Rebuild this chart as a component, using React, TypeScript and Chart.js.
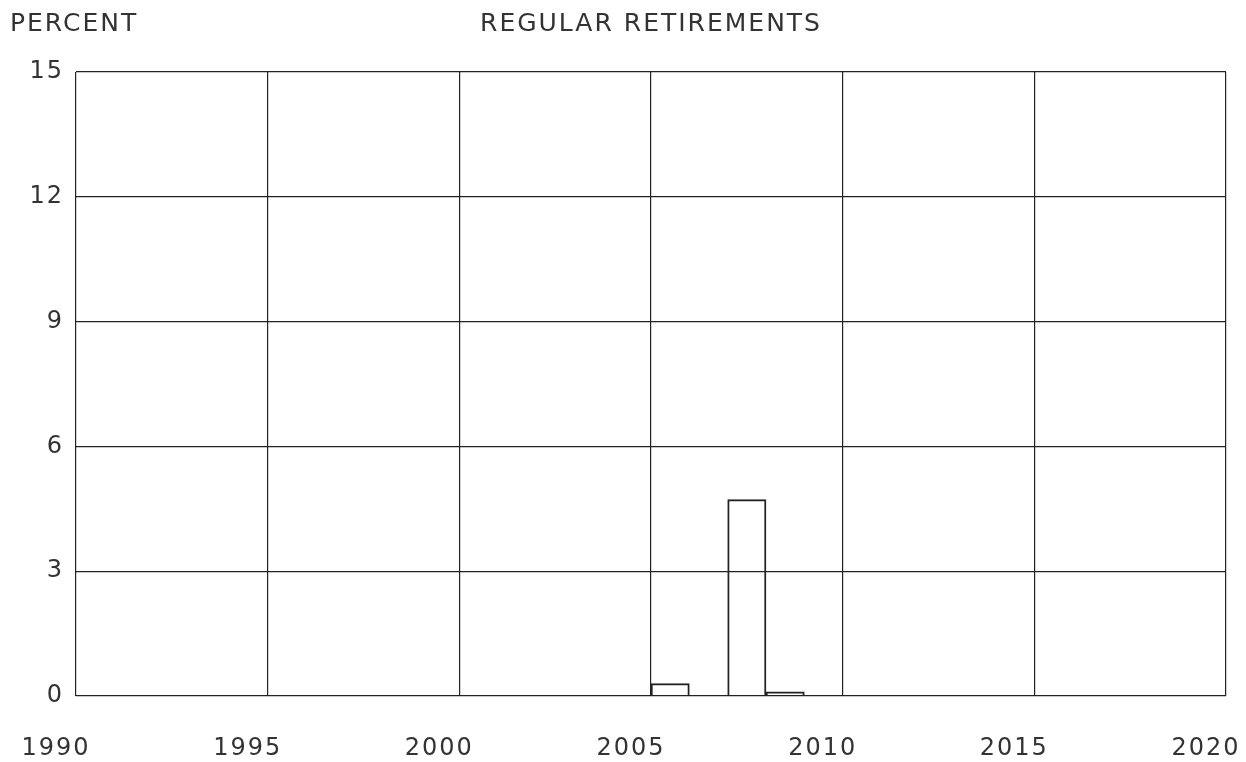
import React, { useEffect, useRef } from "react";
import { Chart, registerables } from "chart.js";

Chart.register(...registerables);

const TITLE = "REGULAR RETIREMENTS";
const Y_TITLE = "PERCENT";
const years = [
  1990, 1991, 1992, 1993, 1994, 1995, 1996, 1997, 1998, 1999,
  2000, 2001, 2002, 2003, 2004, 2005, 2006, 2007, 2008, 2009,
  2010, 2011, 2012, 2013, 2014, 2015, 2016, 2017, 2018, 2019,
];
const percent = [
  0, 0, 0, 0, 0, 0, 0, 0, 0, 0,
  0, 0, 0, 0, 0, 0.3, 0, 4.72, 0.1, 0,
  0, 0, 0, 0, 0, 0, 0, 0, 0, 0,
];
const xMin = 1990;
const xMax = 2020;
const xStep = 5;
const yMin = 0;
const yMax = 15;
const yStep = 3;

const FONT = "'DejaVu Sans', sans-serif";
const INK = "#222";
const TEXT = "#333";

export default function App() {
  const ref = useRef<HTMLCanvasElement | null>(null);

  useEffect(() => {
    document.body.style.margin = "0";
    const canvas = ref.current;
    if (!canvas) return;

    const spacing = {
      id: "spacing",
      beforeUpdate(chart: any) {
        (chart.ctx as any).letterSpacing = "2px";
      },
      beforeDraw(chart: any) {
        (chart.ctx as any).letterSpacing = "2px";
      },
    };

    const titles = {
      id: "titles",
      afterDraw(chart: any) {
        const ctx = chart.ctx;
        ctx.save();
        (ctx as any).letterSpacing = "2px";
        ctx.fillStyle = TEXT;
        ctx.font = `25px ${FONT}`;
        ctx.textBaseline = "middle";
        ctx.textAlign = "left";
        ctx.fillText(Y_TITLE, 10, 24);
        ctx.textAlign = "center";
        ctx.fillText(TITLE, 651, 24);
        ctx.restore();
      },
    };

    const chart = new Chart(canvas, {
      type: "bar",
      data: {
        datasets: [
          {
            data: years.map((y, i) => ({ x: y + 0.5, y: percent[i] })),
            backgroundColor: "rgba(255,255,255,0)",
            borderColor: INK,
            borderWidth: 1.3,
            barPercentage: 1,
            categoryPercentage: 1,
          },
        ],
      },
      options: {
        responsive: false,
        animation: false,
        layout: { padding: { top: 72, right: 20, left: 0, bottom: 0 } },
        plugins: {
          legend: { display: false },
          tooltip: { enabled: false },
          title: { display: false },
        },
        scales: {
          x: {
            type: "linear",
            min: xMin,
            max: xMax,
            offset: false,
            grid: { color: INK, lineWidth: 1.2, drawTicks: false, offset: false },
            border: { display: false },
            afterFit(scale: any) {
              scale.height = 66;
              scale.paddingLeft = 0;
              scale.paddingRight = 0;
            },
            ticks: {
              stepSize: xStep,
              padding: 38,
              labelOffset: -20,
              color: TEXT,
              font: { family: FONT, size: 24 },
              maxRotation: 0,
              autoSkip: false,
              callback: (v: any) => String(v),
            },
          },
          y: {
            min: yMin,
            max: yMax,
            grid: { color: INK, lineWidth: 1.2, drawTicks: false },
            border: { display: false },
            afterFit(scale: any) {
              scale.width = 76;
              scale.paddingTop = 0;
              scale.paddingBottom = 0;
            },
            ticks: {
              stepSize: yStep,
              padding: 12,
              color: TEXT,
              font: { family: FONT, size: 24 },
              callback: (v: any) => String(v),
            },
          },
        },
      },
      plugins: [spacing, titles],
    } as any);

    return () => chart.destroy();
  }, []);

  return (
    <div style={{ position: "absolute", left: 0, top: 0, width: 1246, height: 762, background: "#fff" }}>
      <canvas ref={ref} width={1246} height={762} style={{ display: "block" }} />
    </div>
  );
}
